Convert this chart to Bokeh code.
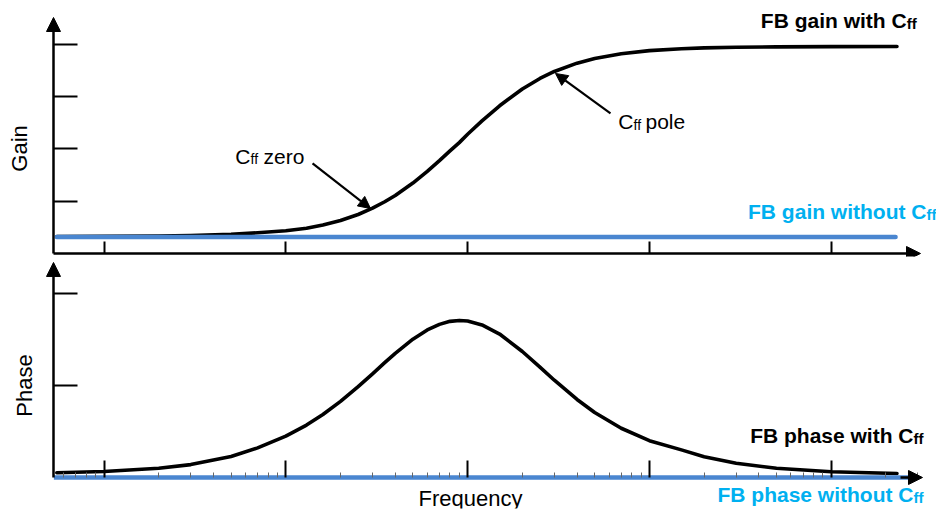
import numpy as np
from bokeh.plotting import figure
from bokeh.layouts import column
from bokeh.models import Range1d, FixedTicker, Arrow, NormalHead, Label
from bokeh.embed import file_html
from bokeh.resources import INLINE

# ---------------- data ----------------
freq = [5.5, 10, 20, 30, 50, 70, 100, 130, 160, 200, 250, 300, 350, 400, 500,
        600, 700, 800, 900, 1000, 1200, 1500, 2000, 2500, 3000, 4000, 5000,
        7000, 1e4, 1.5e4, 2e4, 3e4, 5e4, 1e5, 2.3e5]
gain_with = [0.325, 0.329, 0.335, 0.344, 0.367, 0.396, 0.436, 0.482, 0.545,
             0.631, 0.746, 0.866, 0.989, 1.109, 1.346, 1.572, 1.776, 1.962,
             2.120, 2.279, 2.535, 2.824, 3.145, 3.346, 3.480, 3.639, 3.728,
             3.818, 3.878, 3.914, 3.931, 3.943, 3.950, 3.956, 3.958]
phase_with = [0.051, 0.065, 0.100, 0.140, 0.228, 0.322, 0.450, 0.570, 0.684,
              0.827, 0.988, 1.127, 1.248, 1.349, 1.503, 1.604, 1.664, 1.697,
              1.707, 1.700, 1.658, 1.559, 1.369, 1.199, 1.057, 0.848, 0.707,
              0.535, 0.400, 0.300, 0.225, 0.155, 0.100, 0.063, 0.043]

freq_gain_without = [5.5, 2.26e5]
gain_without = [0.315, 0.315]
freq_phase_without = [5.3, 2.73e5]
phase_without = [0.0, 0.0]

decades = [10, 100, 1e3, 1e4, 1e5]
minor = [m for m in range(6, 10)] + \
        [m * d for d in [10, 100, 1e3, 1e4, 1e5] for m in range(2, 10)]
gain_ticks = [1, 2, 3, 4]
phase_ticks = [1, 2]

BLACK = "black"
LINE_BLUE = "#4A86D0"
TEXT_BLUE = "#00B0F0"
FONT = "Liberation Sans"
SHIFT = 7                            # baseline correction for labels (px)

X_AXIS_POS = 10 ** 0.72222          # frequency where the vertical axes sit
x0, x1 = 10 ** 0.44169, 10 ** 5.5792


def base_fig(height, yr):
    p = figure(width=936, height=height, x_axis_type="log",
               x_range=Range1d(x0, x1), y_range=Range1d(*yr),
               output_backend="svg", toolbar_location=None,
               min_border_left=2, min_border_right=0,
               min_border_top=0, min_border_bottom=2)
    p.outline_line_color = None
    p.grid.visible = False
    for ax in (p.xaxis[0], p.yaxis[0]):
        ax.axis_line_color = None
        ax.major_label_text_font_size = "1px"
        ax.major_label_text_alpha = 0
        ax.major_label_standoff = 0
        ax.major_tick_out = 0
        ax.minor_tick_out = 0
        ax.major_tick_line_width = 2
        ax.major_tick_line_color = BLACK
    p.xaxis[0].fixed_location = 0
    p.yaxis[0].fixed_location = X_AXIS_POS
    return p


def add_text(p, x, y, txt, size, bold=False, color=BLACK, align="left",
             angle=0.0, yoff=0, xoff=0):
    p.add_layout(Label(x=x, y=y, text=txt, text_font=FONT,
                       text_font_size=size,
                       text_font_style="bold" if bold else "normal",
                       text_color=color, text_align=align,
                       text_baseline="alphabetic", angle=angle,
                       y_offset=yoff + (SHIFT if angle == 0 else 0),
                       x_offset=xoff))


def label_cff(p, x, y, main, size, sub_size, bold, color):
    add_text(p, x, y, main, size, bold, color, align="right")
    add_text(p, x, y, "ff", sub_size, bold, color, align="left", yoff=-3)


def head(size):
    return NormalHead(size=size, fill_color=BLACK, line_color=BLACK)


# ---------------- top: gain ----------------
top = base_fig(258, (-0.0574, 4.837))
top.xaxis.ticker = FixedTicker(ticks=decades, minor_ticks=[])
top.xaxis.major_tick_in = 12
top.xaxis.minor_tick_in = 0
top.yaxis.ticker = FixedTicker(ticks=gain_ticks, minor_ticks=[])
top.yaxis.major_tick_in = 24
top.yaxis.minor_tick_in = 0

top.line(freq, gain_with, line_color=BLACK, line_width=3.6,
         line_join="round", line_cap="round")
top.line(freq_gain_without, gain_without, line_color=LINE_BLUE, line_width=4.5,
         line_cap="round")

top.add_layout(Arrow(end=head(14), x_start=X_AXIS_POS, y_start=0,
                     x_end=X_AXIS_POS, y_end=4.512,
                     line_width=2.5, line_color=BLACK))
top.add_layout(Arrow(end=head(14), x_start=X_AXIS_POS, y_start=0,
                     x_end=3.099e5, y_end=0, line_width=2.5, line_color=BLACK))
top.add_layout(Arrow(end=head(12), x_start=140.3, y_start=1.721, x_end=292.4,
                     y_end=0.860, line_width=2.2, line_color=BLACK))
top.add_layout(Arrow(end=head(12), x_start=6110, y_start=2.677, x_end=3045,
                     y_end=3.442, line_width=2.2, line_color=BLACK))

label_cff(top, 2.6e5, 4.321, "FB gain with C", "21px", "15px", True, BLACK)
label_cff(top, 3.344e5, 0.663, "FB gain without C", "21px", "15px", True, TEXT_BLUE)
label_cff(top, 63.96, 1.727, "C", "21px", "14px", False, BLACK)
add_text(top, 75.4, 1.727, "zero", "21px")
label_cff(top, 8175, 2.384, "C", "21px", "14px", False, BLACK)
add_text(top, 9517, 2.384, "pole", "21px")
add_text(top, 3.858, 2.008, "Gain", "22px", align="center", angle=np.pi / 2,
         xoff=-9)

# ---------------- bottom: phase ----------------
bot = base_fig(252, (-0.337, 2.380))
bot.xaxis.ticker = FixedTicker(ticks=decades, minor_ticks=minor)
bot.xaxis.major_tick_in = 17
bot.xaxis.minor_tick_in = 5
bot.xaxis.minor_tick_line_color = "#666666"
bot.xaxis.minor_tick_line_width = 1
bot.yaxis.ticker = FixedTicker(ticks=phase_ticks, minor_ticks=[])
bot.yaxis.major_tick_in = 24
bot.yaxis.minor_tick_in = 0

bot.add_layout(Arrow(end=head(14), x_start=X_AXIS_POS, y_start=0,
                     x_end=X_AXIS_POS, y_end=2.337,
                     line_width=2.5, line_color=BLACK))
bot.line(freq, phase_with, line_color=BLACK, line_width=3.6,
         line_join="round", line_cap="round")
bot.line(freq_phase_without, phase_without, line_color=LINE_BLUE, line_width=4.5)
bot.add_layout(Arrow(end=head(14), x_start=2.406e5, y_start=0, x_end=3.178e5,
                     y_end=0, line_width=2.5, line_color=BLACK))

label_cff(bot, 2.836e5, 0.377, "FB phase with C", "21px", "15px", True, BLACK)
label_cff(bot, 2.836e5, -0.258, "FB phase without C", "21px", "15px", True, TEXT_BLUE)
add_text(bot, 1038, -0.304, "Frequency", "22px", align="center")
add_text(bot, 4.11, 1.0, "Phase", "22px", align="center", angle=np.pi / 2,
         xoff=-9)

layout = column(top, bot)
open("out.html", "w").write(file_html(layout, INLINE))
